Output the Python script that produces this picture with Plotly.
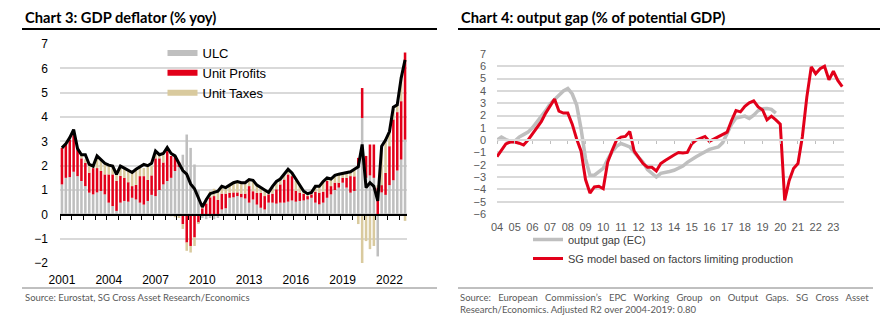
import plotly.graph_objects as go

# ---------------- Chart 3 data (quarterly, 2001Q1 - 2023Q1) ----------------
ulc = [1.23, 1.5, 1.53, 1.75, 1.57, 1.37, 1.16, 0.89, 0.82, 0.9,
       0.96, 0.82, 0.48, 0.34, 0.14, 0.48, 0.55, 0.52, 0.68, 0.61,
       0.48, 0.4, 0.55, 0.8, 0.75, 1.0, 1.23, 1.37, 1.5, 1.78,
       1.95, 2.45, 3.28, 2.73, 2.05, 1.0, -0.15, -0.2, -0.15, -0.2,
       -0.15, 0.2, 0.25, 0.68, 0.7, 0.75, 0.7, 0.65, 0.48, 0.61,
       0.4, 0.27, 0.2, 0.48, 0.48, 0.44, 0.48, 0.48, 0.52, 0.57,
       0.52, 0.55, 0.57, 0.61, 0.68, 0.48, 0.41, 0.48, 0.68, 0.82,
       1.0, 1.1, 1.3, 1.1, 0.89, 0.96, 1.98, 3.96, 1.5, 1.6,
       1.5, -1.73, 0.9, 0.8, 1.2, 1.4, 1.8, 2.25, 3.07]
unit_profits = [1.5, 1.37, 1.55, 1.65, 1.1, 0.93, 0.95, 0.82, 1.08, 1.0,
                0.82, 0.82, 1.16, 1.3, 1.23, 1.1, 0.95, 0.8, 0.48, 0.6,
                1.09, 1.17, 0.87, 0.8, 1.55, 1.3, 0.9, 1.23, 0.9, 0.6,
                0.2, -0.4, -1.16, -1.3, -0.95, -0.35, 0.25, 0.45, 0.7, 0.75,
                0.6, 0.65, 0.6, 0.2, 0.2, 0.15, 0.15, 0.2, 0.68, 0.34,
                0.48, 0.61, 0.55, 0.34, 0.37, 0.59, 0.75, 0.95, 1.12, 1.0,
                0.45, 0.34, 0.27, 0.14, 0.14, 0.45, 0.48, 0.45, 0.69, 0.34,
                0.3, 0.2, 0.2, 0.4, 0.68, 0.6, 0.34, 1.23, 0.9, 1.27,
                1.37, 1.1, 0.3, 0.9, 1.6, 2.5, 2.4, 2.4, 3.58]
unit_taxes = [0.0, 0.03, 0.05, 0.05, 0.1, 0.16, 0.15, 0.33, 0.1, 0.4,
              0.45, 0.45, 0.38, 0.35, 0.27, 0.4, 0.4, 0.45, 0.55, 0.6,
              0.35, 0.33, 0.6, 0.4, 0.3, 0.15, 0.3, 0.1, -0.08, -0.12,
              -0.15, -0.2, -0.34, -0.27, -0.35, -0.05, 0.1, 0.2, 0.25, 0.3,
              0.4, 0.3, 0.3, 0.32, 0.4, 0.45, 0.45, 0.45, 0.25, 0.4,
              0.3, 0.2, 0.2, 0.1, 0.3, 0.3, 0.2, 0.2, 0.2, 0.15,
              0.4, 0.3, 0.1, 0.1, 0.1, 0.2, 0.25, 0.4, 0.15, 0.3,
              0.3, 0.35, 0.2, 0.2, 0.2, 0.3, -0.4, -2.05, -1.1, -1.43,
              -1.3, 0.1, 1.6, 1.4, 0.6, 0.5, 0.3, 1.0, -0.27]
gdp_deflator = [2.73, 2.9, 3.15, 3.48, 2.7, 2.45, 2.45, 2.05, 1.98, 2.4,
                2.25, 2.1, 2.02, 1.98, 1.64, 1.98, 1.9, 1.8, 1.72, 1.85,
                1.95, 2.05, 2.0, 2.1, 2.6, 2.45, 2.5, 2.75, 2.5, 2.4,
                2.1, 1.8, 1.65, 1.25, 1.05, 0.7, 0.3, 0.6, 0.85, 0.9,
                0.95, 1.15, 1.1, 1.2, 1.3, 1.35, 1.3, 1.3, 1.43, 1.4,
                1.2, 1.1, 1.0, 0.9, 1.15, 1.35, 1.45, 1.65, 1.85, 1.7,
                1.45, 1.15, 0.95, 0.85, 0.9, 1.15, 1.15, 1.35, 1.5, 1.45,
                1.6, 1.65, 1.68, 1.7, 1.75, 1.85, 1.95, 2.87, 1.1, 1.3,
                1.15, 0.55, 2.8, 3.05, 3.4, 4.4, 4.5, 5.6, 6.35]
year_labels_3 = ["2001", "2004", "2007", "2010", "2013", "2016", "2019", "2022"]

# ---------------- Chart 4 data (quarterly, 2004Q1 - 2023Q3) ----------------
output_gap_ec = [0.0, 0.25, 0.05, -0.1, -0.1, 0.25, 0.45, 0.65, 1.0, 1.45,
                 1.9, 2.4, 2.95, 3.3, 3.7, 4.0, 4.2, 3.75, 2.85, 0.9,
                 -1.5, -2.85, -2.85, -2.6, -2.3, -1.55, -0.95, -0.5, -0.27, -0.4,
                 -0.55, -1.0, -1.4, -1.8, -2.4, -2.7, -3.0, -2.7, -2.65, -2.55,
                 -2.45, -2.3, -2.1, -1.8, -1.55, -1.35, -1.15, -0.95, -0.75, -0.65,
                 -0.55, -0.2, 0.5, 1.3, 1.8, 1.9, 1.95, 1.76, 2.03, 2.4,
                 2.55, 2.57, 2.5, 2.2]
sg_model = [-1.35, -0.8, -0.3, -0.15, -0.15, -0.25, -0.4, 0.0, 0.5, 0.95,
            1.5, 2.2, 2.75, 3.35, 2.35, 2.2, 2.2, 1.3, 0.1, -0.9,
            -3.2, -4.3, -3.8, -3.75, -3.95, -1.8, -0.85, 0.0, 0.25, 0.3,
            0.7, -0.9, -1.4, -1.9, -2.2, -2.2, -2.5, -1.9, -1.65, -1.4,
            -1.2, -1.0, -1.05, -1.0, -0.3, 0.0, 0.14, 0.3, -0.1, 0.1,
            0.3, 0.46, 0.65, 1.6, 2.4, 2.3, 2.75, 3.03, 3.2, 2.7,
            2.45, 1.65, 1.95, 1.65, 1.3, -4.9, -3.3, -2.3, -1.9, 0.3,
            3.5, 5.95, 5.4, 5.8, 6.0, 4.9, 5.6, 4.85, 4.35]
year_labels_4 = ["04", "05", "06", "07", "08", "09", "10", "11", "12", "13",
                 "14", "15", "16", "17", "18", "19", "20", "21", "22", "23"]

W, H = 893, 327
px = lambda v: v / W
py = lambda v: 1 - v / H

x3 = list(range(len(ulc)))
x4 = list(range(len(sg_model)))
x4_ec = list(range(len(output_gap_ec)))

GREY = "#BFBFBF"
RED = "#E2001A"
TAN = "#D9CA9E"

fig = go.Figure()

# bars
fig.add_trace(go.Bar(x=x3, y=ulc, marker_color=GREY, marker_line_width=0,
                     showlegend=False, legendgroup="ulc", xaxis="x", yaxis="y"))
fig.add_trace(go.Bar(x=x3, y=unit_profits, marker_color=RED, marker_line_width=0,
                     showlegend=False, legendgroup="up", xaxis="x", yaxis="y"))
fig.add_trace(go.Bar(x=x3, y=unit_taxes, marker_color=TAN, marker_line_width=0,
                     showlegend=False, legendgroup="ut", xaxis="x", yaxis="y"))
# deflator line on overlay axis
fig.add_trace(go.Scatter(x=x3, y=gdp_deflator, mode="lines",
                         line=dict(color="black", width=3),
                         showlegend=False, xaxis="x3", yaxis="y"))
# legend entries (chart 3)
for name, col, grp in [("ULC", GREY, "ulc"), ("Unit Profits", RED, "up"),
                       ("Unit Taxes", TAN, "ut")]:
    fig.add_trace(go.Scatter(x=[None], y=[None], mode="lines", name=name,
                             line=dict(color=col, width=6), legendgroup=grp,
                             legend="legend", xaxis="x", yaxis="y"))

# chart 4 lines
fig.add_trace(go.Scatter(x=x4_ec, y=output_gap_ec, mode="lines",
                         name="output gap (EC)",
                         line=dict(color=GREY, width=3.5),
                         legend="legend2", xaxis="x2", yaxis="y2"))
fig.add_trace(go.Scatter(x=x4, y=sg_model, mode="lines",
                         name="SG model based on factors limiting production",
                         line=dict(color=RED, width=3),
                         legend="legend2", xaxis="x4", yaxis="y2"))

dom3x = [px(60), px(407)]
dom3y = [py(263), py(44)]
dom4x = [px(497), px(844)]
dom4y = [py(214), py(54)]
rng3 = [-0.5, len(ulc) - 0.5]
rng4 = [0, 78.4]

AX_FONT = "Liberation Sans, Arial, sans-serif"

fig.update_layout(
    width=W, height=H, margin=dict(l=0, r=0, t=0, b=0, autoexpand=False),
    paper_bgcolor="white", plot_bgcolor="white",
    barmode="relative", bargap=0.35,
    font=dict(family=AX_FONT, size=12, color="black"),
    xaxis=dict(domain=dom3x, range=rng3, anchor="y", automargin=False,
               tickvals=[k * 12 for k in range(len(year_labels_3))],
               ticktext=year_labels_3, showgrid=False, zeroline=False,
               showline=False, ticks="", tickfont=dict(size=12, color="black"),
               ticklabelstandoff=8),
    xaxis3=dict(domain=dom3x, range=rng3, overlaying="x", anchor="free",
                automargin=False,
                position=py(215), showgrid=False, zeroline=False,
                showline=True, linecolor="black", linewidth=2,
                tickvals=[-0.5 + 3 * k for k in range(30)], ticks="outside",
                ticklen=4, tickcolor="black", tickwidth=1,
                showticklabels=False),
    yaxis=dict(domain=dom3y, range=[-2, 7], dtick=1, anchor="x",
               automargin=False,
               showgrid=True, gridcolor="#D9D9D9", gridwidth=1.5,
               zeroline=False, showline=False, ticks="",
               tickfont=dict(size=12, color="black"), ticklabelstandoff=11),
    xaxis2=dict(domain=dom4x, range=rng4, anchor="y2", automargin=False,
                tickvals=[k * 4 for k in range(len(year_labels_4))],
                ticktext=year_labels_4, showgrid=False, zeroline=False,
                showline=False, ticks="",
                tickfont=dict(size=11, color="#595959"), ticklabelstandoff=5),
    xaxis4=dict(domain=dom4x, range=rng4, overlaying="x2", anchor="free",
                automargin=False,
                position=py(140), showgrid=False, zeroline=False,
                showline=True, linecolor="#D9D9D9", linewidth=1.5,
                tickvals=[k * 4 for k in range(len(year_labels_4))],
                ticks="outside", ticklen=3, tickcolor="#BFBFBF",
                showticklabels=False),
    yaxis2=dict(domain=dom4y, range=[-6, 7], dtick=1, anchor="x2",
                automargin=False,
                showgrid=True, gridcolor="#D9D9D9", gridwidth=1.5,
                zeroline=False, showline=False, ticks="",
                tickfont=dict(size=11, color="#595959"), ticklabelstandoff=10),
    legend=dict(x=px(162.5), y=py(38), xanchor="left", yanchor="top",
                font=dict(size=13, color="black"), bgcolor="rgba(0,0,0,0)",
                tracegroupgap=0),
    legend2=dict(x=px(528), y=py(225), xanchor="left", yanchor="top",
                 font=dict(size=11, color="#404040"), bgcolor="rgba(0,0,0,0)"),
)

TITLE_FONT = dict(family="Lato, Open Sans, sans-serif", size=14.7, color="black")
SRC_FONT = dict(family="Lato, Open Sans, sans-serif", size=9.5, color="#595959")
NB = "\u00a0\u00a0"
src4_line1 = ("Source: European Commission\u2019s EPC Working Group on Output Gaps. SG Cross Asset"
              .replace(" ", " " + NB))

annotations = [
    dict(text="<b>Chart 3: GDP deflator (% yoy)</b>", x=px(23), y=py(17),
         xanchor="left", yanchor="middle", font=TITLE_FONT),
    dict(text="<b>Chart 4: output gap (% of potential GDP)</b>", x=px(459), y=py(17),
         xanchor="left", yanchor="middle", font=TITLE_FONT),
    dict(text="Source: Eurostat, SG Cross Asset Research/Economics", x=px(23), y=py(297),
         xanchor="left", yanchor="middle", font=SRC_FONT),
    dict(text=src4_line1,
         x=px(458), y=py(297), xanchor="left", yanchor="middle", font=SRC_FONT),
    dict(text="Research/Economics. Adjusted R2 over 2004-2019: 0.80",
         x=px(458), y=py(309), xanchor="left", yanchor="middle", font=SRC_FONT),
]
for a in annotations:
    a.update(xref="paper", yref="paper", showarrow=False)
fig.update_layout(annotations=annotations)

shapes = [
    dict(type="line", x0=px(22), x1=px(437), y0=py(29), y1=py(29),
         line=dict(color="black", width=2)),
    dict(type="line", x0=px(458), x1=px(880), y0=py(29), y1=py(29),
         line=dict(color="black", width=2)),
    dict(type="line", x0=px(22), x1=px(437), y0=py(288), y1=py(288),
         line=dict(color="#808080", width=1)),
    dict(type="line", x0=px(458), x1=px(873), y0=py(288), y1=py(288),
         line=dict(color="#808080", width=1)),
]
for s in shapes:
    s.update(xref="paper", yref="paper")
fig.update_layout(shapes=shapes)

fig.write_html("out.html")
